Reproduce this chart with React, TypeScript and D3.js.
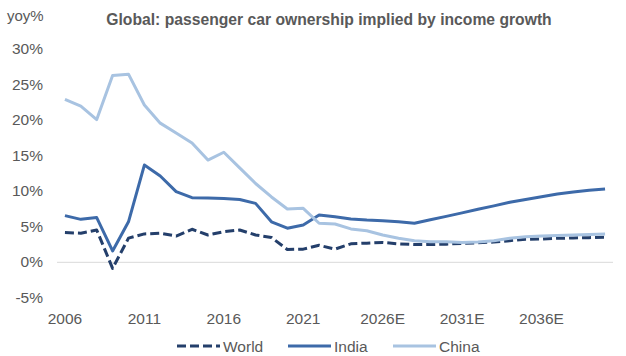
import React from "react";
import * as d3 from "d3";

const years: number[] = d3.range(2006, 2041);
const xTickYears: number[] = [2006, 2011, 2016, 2021, 2026, 2031, 2036];
const yTicks: number[] = [-5, 0, 5, 10, 15, 20, 25, 30];

const world: number[] = [
  4.2, 4.1, 4.55, -0.85, 3.4, 4.0, 4.1, 3.7, 4.65, 3.85,
  4.3, 4.55, 3.85, 3.5, 1.8, 1.85, 2.4, 1.85, 2.6, 2.7,
  2.8, 2.6, 2.5, 2.5, 2.55, 2.67, 2.75, 2.85, 3.05, 3.24,
  3.28, 3.38, 3.43, 3.47, 3.52,
];
const india: number[] = [
  6.57, 6.05, 6.3, 1.6, 5.7, 13.7, 12.15, 9.95, 9.1, 9.05,
  9.0, 8.85, 8.3, 5.7, 4.8, 5.25, 6.65, 6.4, 6.1, 5.95,
  5.86, 5.7, 5.5, 5.99, 6.47, 6.96, 7.46, 7.95, 8.45, 8.85,
  9.24, 9.62, 9.9, 10.14, 10.32,
];
const china: number[] = [
  22.96, 22.0, 20.1, 26.3, 26.5, 22.15, 19.6, 18.2, 16.8, 14.4,
  15.5, 13.3, 11.1, 9.2, 7.5, 7.6, 5.5, 5.4, 4.7, 4.45,
  3.85, 3.4, 3.05, 2.9, 2.88, 2.8, 2.85, 3.05, 3.38, 3.6,
  3.7, 3.78, 3.83, 3.9, 3.98,
];

const seriesNames = ["World", "India", "China"];
const seriesColors = ["#243f6b", "#3d6aa9", "#a8c3e1"];
const seriesDash = ["9,4", null, null];
const seriesData = [world, india, china];

const W = 626;
const H = 356;
const FONT = "'Liberation Sans', Arial, sans-serif";
const TXT = "#595959";
const FS = 15.5;

export default function App() {
  const x = d3.scalePoint<number>().domain(years).range([57, 613]).padding(0.5);
  const y = d3.scaleLinear().domain([-5, 30]).range([297.8, 49.3]);
  const line = d3
    .line<number>()
    .x((_, i) => x(years[i]) as number)
    .y((d) => y(d));

  const tickLabel = (yr: number) => (yr >= 2026 ? `${yr}E` : `${yr}`);

  return (
    <svg
      width={W}
      height={H}
      style={{ position: "absolute", left: 0, top: 0, background: "#fff" }}
      fontFamily={FONT}
    >
      <text x={329} y={25} textAnchor="middle" fontSize={15.7} fontWeight="bold" fill={TXT}>
        Global: passenger car ownership implied by income growth
      </text>
      <text x={7} y={20.5} fontSize={15} fill={TXT}>
        yoy%
      </text>
      {yTicks.map((t) => (
        <text key={t} x={43} y={y(t) + 5} textAnchor="end" fontSize={FS} fill={TXT}>
          {`${t}%`}
        </text>
      ))}
      <line x1={57} x2={613} y1={y(0)} y2={y(0)} stroke="#d9d9d9" strokeWidth={1} />
      {xTickYears.map((yr) => (
        <text key={yr} x={x(yr) as number} y={323.5} textAnchor="middle" fontSize={FS} fill={TXT}>
          {tickLabel(yr)}
        </text>
      ))}
      {seriesData.map((d, i) => (
        <path
          key={seriesNames[i]}
          d={line(d) || ""}
          fill="none"
          stroke={seriesColors[i]}
          strokeWidth={3}
          strokeDasharray={seriesDash[i] || undefined}
          strokeLinejoin="round"
        />
      ))}
      {seriesNames.map((name, i) => {
        const lx = [177, 288, 393][i];
        return (
          <g key={name}>
            <line
              x1={lx}
              x2={lx + 43}
              y1={346}
              y2={346}
              stroke={seriesColors[i]}
              strokeWidth={3}
              strokeDasharray={seriesDash[i] || undefined}
            />
            <text x={lx + 46} y={351.5} fontSize={FS} fill={TXT}>
              {name}
            </text>
          </g>
        );
      })}
    </svg>
  );
}
